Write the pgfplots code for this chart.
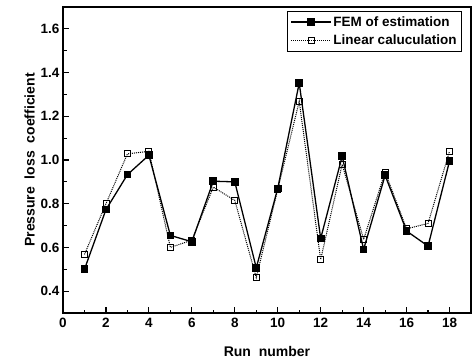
\documentclass[border=0pt]{standalone}
\usepackage{pgfplots}
\pgfplotsset{compat=1.18}
\usepackage{fontspec}
\setmainfont{Liberation Sans}
\begin{document}
\begin{tikzpicture}
\path[use as bounding box] (-63pt,-48pt) rectangle (410pt,313pt);
\begin{axis}[
  scale only axis,
  width=408pt, height=306pt,
  xmin=0, xmax=19, ymin=0.3, ymax=1.7,
  xtick={0,2,...,18},
  ytick={0.4,0.6,...,1.61},
  minor x tick num=1, minor y tick num=1,
  tick pos=left, tick align=inside,
  major tick length=6pt, minor tick length=3.5pt,
  every tick/.style={black, line width=1.2pt},
  axis line style={line width=1.5pt},
  /pgf/number format/assume math mode=true,
  yticklabel style={/pgf/number format/.cd, fixed, fixed zerofill, precision=1},
  tick label style={font=\bfseries\fontsize{13.5}{13.5}\selectfont},
  xticklabel style={yshift=-2pt},
  xlabel={Run\ \ number}, ylabel={Pressure\ \ loss\ \ coefficient},
  label style={font=\bfseries\fontsize{14}{14}\selectfont},
  xlabel style={yshift=-11pt},
  ylabel style={yshift=-1pt},
  legend style={at={(0.978,0.987)}, anchor=north east, font=\bfseries\fontsize{13.5}{16}\selectfont,
    draw=black, line width=1pt, inner sep=3pt, row sep=3pt,
    cells={anchor=west}},
  legend image code/.code={\draw[mark repeat=2,mark phase=2] plot coordinates {(0cm,0cm)(0.7cm,0cm)(1.4cm,0cm)};},
]
\addplot[black, line width=1.3pt, mark=square*, mark size=3.2pt, mark options={solid}] coordinates {
(1,0.50)(2,0.773)(3,0.933)(4,1.022)(5,0.655)(6,0.626)(7,0.903)(8,0.90)(9,0.507)
(10,0.87)(11,1.352)(12,0.641)(13,1.017)(14,0.591)(15,0.93)(16,0.675)(17,0.606)(18,0.995)};
\addlegendentry{FEM of estimation}
\addplot[black, line width=1pt, densely dotted, mark=square, mark size=3pt, mark options={solid, fill=white, line width=0.8pt}] coordinates {
(1,0.568)(2,0.80)(3,1.028)(4,1.04)(5,0.60)(6,0.633)(7,0.876)(8,0.815)(9,0.462)
(10,0.865)(11,1.268)(12,0.545)(13,0.98)(14,0.637)(15,0.945)(16,0.685)(17,0.71)(18,1.04)};
\addlegendentry{Linear caluculation}
\end{axis}
\end{tikzpicture}
\end{document}
